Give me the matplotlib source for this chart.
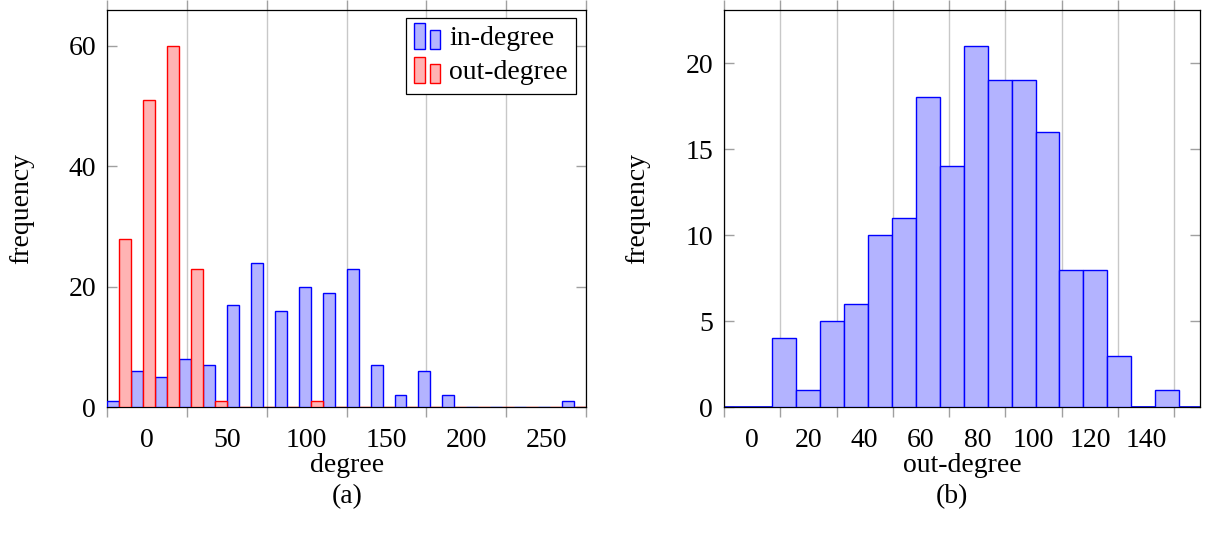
import numpy as np
import matplotlib
matplotlib.use("Agg")
import matplotlib.pyplot as plt
from matplotlib.patches import Rectangle
from matplotlib.legend_handler import HandlerBase

plt.rcParams['font.family'] = ['Liberation Serif', 'DejaVu Serif']
plt.rcParams['font.size'] = 20

# ---------------- data ----------------
# (a) in/out degree histograms: 20 bins of width 15
bin_width_a = 15
in_degree = [1, 6, 5, 8, 7, 17, 24, 16, 20, 19, 23, 7, 2, 6, 2, 0, 0, 0, 0, 1]
out_degree = [28, 51, 60, 23, 1, 0, 0, 0, 1, 0, 0, 0, 0, 0, 0, 0, 0, 0, 0, 0]
xticks_a = [0, 50, 100, 150, 200, 250, 300]
xticklabels_a = ["0", "50", "100", "150", "200", "250"]
yticks_a = [0, 20, 40, 60]

# (b) out-degree histogram: 17 bins of width 8.5 starting at 17.17
bin_start_b = 17.17
bin_width_b = 8.5
out_degree_b = [4, 1, 5, 6, 10, 11, 18, 14, 21, 19, 19, 16, 8, 8, 3, 0, 1]
xticks_b = [0, 20, 40, 60, 80, 100, 120, 140, 160]
xticklabels_b = ["0", "20", "40", "60", "80", "100", "120", "140"]
yticks_b = [0, 5, 10, 15, 20]

BLUE_FC = '#b3b3ff'
BLUE_EC = '#0000ff'
RED_FC = '#ffb3b3'
RED_EC = '#ff0000'
GRID = '#c8c8c8'
TICK = '#a0a0a0'


class TwoBarHandler(HandlerBase):
    def __init__(self, fc, ec):
        super().__init__()
        self.fc = fc
        self.ec = ec

    def create_artists(self, legend, orig_handle, xdescent, ydescent,
                       width, height, fontsize, trans):
        x0 = -xdescent
        y0 = -ydescent - 0.2 * height
        bw = width * 0.38
        r1 = Rectangle((x0, y0), bw, height * 1.35, facecolor=self.fc,
                       edgecolor=self.ec, lw=1.0, transform=trans)
        r2 = Rectangle((x0 + width * 0.55, y0), bw, height * 1.0,
                       facecolor=self.fc, edgecolor=self.ec, lw=1.0,
                       transform=trans)
        return [r1, r2]


def style_axes(ax, xticks, xlabels, yticks, xlim, ylim):
    ax.set_xlim(*xlim)
    ax.set_ylim(*ylim)
    ax.set_xticks(xticks)
    ax.set_xticklabels([])
    mids = [(a + b) / 2 for a, b in zip(xticks[:-1], xticks[1:])]
    ax.set_xticks(mids, minor=True)
    ax.set_xticklabels(xlabels, minor=True)
    ax.tick_params(axis='x', which='major', direction='out', length=7,
                   color=TICK, width=1.0, top=True, bottom=True)
    ax.tick_params(axis='x', which='minor', length=0, pad=15)
    ax.set_yticks(yticks)
    ax.tick_params(axis='y', which='major', direction='in', length=7,
                   color=TICK, width=1.0, left=True, right=True, pad=8)
    ax.xaxis.grid(True, which='major', color=GRID, lw=1.0)
    ax.set_axisbelow(True)
    for s in ax.spines.values():
        s.set_color('black')
        s.set_linewidth(0.9)


fig = plt.figure(figsize=(12.12, 5.44), dpi=100)

# ---------------- (a) ----------------
ax1 = fig.add_axes([107.3 / 1212, 1 - 407.3 / 544, (586 - 107.3) / 1212,
                    (407.3 - 9.7) / 544])
n_a = len(in_degree)
left_a = np.arange(n_a) * bin_width_a
half = bin_width_a / 2
ax1.bar(left_a, in_degree, width=half, align='edge', color=BLUE_FC,
        edgecolor=BLUE_EC, lw=1.0, label='in-degree', zorder=3)
ax1.bar(left_a + half, out_degree, width=half, align='edge', color=RED_FC,
        edgecolor=RED_EC, lw=1.0, label='out-degree', zorder=3)
style_axes(ax1, xticks_a, xticklabels_a, yticks_a, (0, 300), (0, 66))
ax1.set_xlabel('degree', labelpad=0)
ax1.set_ylabel('frequency', labelpad=25)

handles = [Rectangle((0, 0), 1, 1), Rectangle((0, 0), 1, 1)]
leg = ax1.legend(
    handles, ['in-degree', 'out-degree'],
    loc='upper right', bbox_to_anchor=(1 - 10 / 478.7, 1 - 8 / 397.6),
    borderaxespad=0, fancybox=False, edgecolor='black', framealpha=1,
    handlelength=1.0, handletextpad=0.25, borderpad=0.3, labelspacing=0.3,
    handler_map={handles[0]: TwoBarHandler(BLUE_FC, BLUE_EC),
                 handles[1]: TwoBarHandler(RED_FC, RED_EC)}
)
leg.get_frame().set_linewidth(0.9)
leg.set_zorder(10)

# ---------------- (b) ----------------
ax2 = fig.add_axes([724 / 1212, 1 - 407.3 / 544, (1200 - 724) / 1212,
                    (407.3 - 9.7) / 544])
left_b = bin_start_b + np.arange(len(out_degree_b)) * bin_width_b
ax2.axhline(0, color=BLUE_EC, lw=1.2, zorder=2)
ax2.bar(left_b, out_degree_b, width=bin_width_b, align='edge', color=BLUE_FC,
        edgecolor=BLUE_EC, lw=1.0, zorder=3)
style_axes(ax2, xticks_b, xticklabels_b, yticks_b, (0, 169.1), (0, 23.1))
ax2.set_xlabel('out-degree', labelpad=0)
ax2.set_ylabel('frequency', labelpad=25)

fig.text(347 / 1212, 1 - 497 / 544, '(a)', ha='center', va='center')
fig.text(952 / 1212, 1 - 497 / 544, '(b)', ha='center', va='center')

fig.savefig('out.png', dpi=100)
